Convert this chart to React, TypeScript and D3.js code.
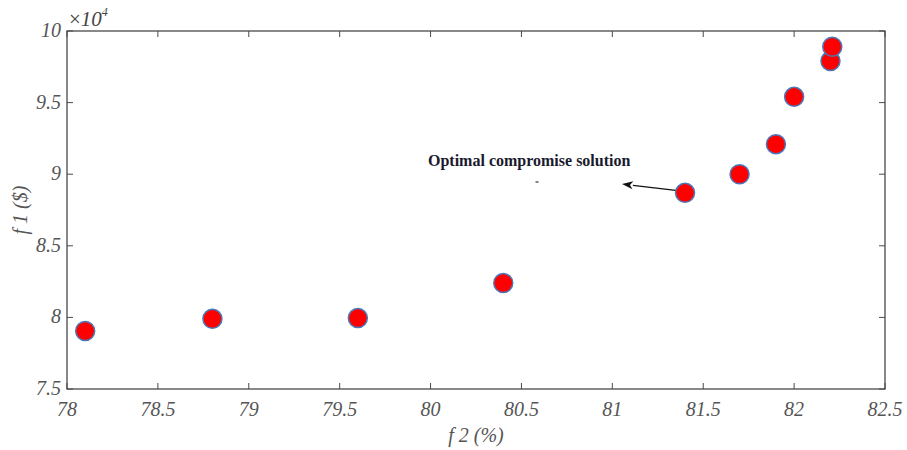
import React, { useRef, useEffect } from 'react';
import * as d3 from 'd3';

// f2 (%) and f1 ($ / 1e4) of the pareto points
const f2Values = [78.1, 78.8, 79.6, 80.4, 81.4, 81.7, 81.9, 82.0, 82.2, 82.21];
const f1Values = [7.905, 7.99, 7.995, 8.24, 8.87, 9.0, 9.21, 9.54, 9.79, 9.89];
const xTicks = [78, 78.5, 79, 79.5, 80, 80.5, 81, 81.5, 82, 82.5];
const yTicks = [7.5, 8, 8.5, 9, 9.5, 10];
const annotationText = 'Optimal compromise solution';

const ParetoChart = ({ width, height }) => {
  const ref = useRef(null);

  useEffect(() => {
    const svg = d3.select(ref.current)
      .attr('width', width)
      .attr('height', height)
      .style('background-color', 'white');

    svg.selectAll('*').remove();

    const left = 67, top = 31, right = 885, bottom = 389;
    const font = '"Liberation Serif", "Times New Roman", serif';
    const axisColor = '#4a4a4a';
    const textColor = '#555';

    const xScale = d3.scaleLinear().domain([78, 82.5]).range([left, right]);
    const yScale = d3.scaleLinear().domain([7.5, 10]).range([bottom, top]);

    const g = svg.append('g');

    // box
    g.append('rect')
      .attr('x', left).attr('y', top)
      .attr('width', right - left).attr('height', bottom - top)
      .attr('fill', 'none')
      .attr('stroke', axisColor)
      .attr('stroke-width', 1.3);

    // inward ticks on all four sides
    const tl = 6;
    xTicks.forEach(t => {
      const x = xScale(t);
      g.append('line').attr('x1', x).attr('x2', x).attr('y1', bottom).attr('y2', bottom - tl).attr('stroke', axisColor);
      g.append('line').attr('x1', x).attr('x2', x).attr('y1', top).attr('y2', top + tl).attr('stroke', axisColor);
      g.append('text')
        .attr('x', x).attr('y', bottom + 27)
        .attr('text-anchor', 'middle')
        .style('font-family', font).style('font-style', 'italic').style('font-size', '20px')
        .attr('fill', textColor)
        .text(t);
    });
    yTicks.forEach(t => {
      const y = yScale(t);
      g.append('line').attr('x1', left).attr('x2', left + tl).attr('y1', y).attr('y2', y).attr('stroke', axisColor);
      g.append('line').attr('x1', right).attr('x2', right - tl).attr('y1', y).attr('y2', y).attr('stroke', axisColor);
      g.append('text')
        .attr('x', left - 6).attr('y', y + 6)
        .attr('text-anchor', 'end')
        .style('font-family', font).style('font-style', 'italic').style('font-size', '20px')
        .attr('fill', textColor)
        .text(t);
    });

    // exponent
    const expo = g.append('text')
      .attr('x', left + 2).attr('y', top - 5)
      .style('font-family', font).style('font-size', '21px')
      .attr('fill', '#444');
    expo.append('tspan').text('\u00d7');
    expo.append('tspan').style('font-style', 'italic').text('10');
    expo.append('tspan').attr('dy', -10).style('font-size', '12px').style('font-style', 'italic').text('4');

    // axis labels
    g.append('text')
      .attr('x', (left + right) / 2).attr('y', 442)
      .attr('text-anchor', 'middle')
      .style('font-family', font).style('font-style', 'italic').style('font-size', '20px')
      .attr('fill', textColor)
      .text('f 2 (%)');
    g.append('text')
      .attr('transform', `translate(27, ${(top + bottom) / 2}) rotate(-90)`)
      .attr('text-anchor', 'middle')
      .style('font-family', font).style('font-style', 'italic').style('font-size', '20px')
      .attr('fill', textColor)
      .text('f 1 ($)');

    // annotation
    g.append('text')
      .attr('x', 428).attr('y', 166)
      .style('font-family', font).style('font-weight', 'bold').style('font-size', '16px')
      .attr('fill', '#1a1a2e')
      .text(annotationText);
    g.append('line')
      .attr('x1', 535.5).attr('x2', 538.5).attr('y1', 182).attr('y2', 182)
      .attr('stroke', '#333').attr('stroke-width', 1.2);

    const x0 = xScale(81.4) - 5, y0 = yScale(8.87) - 2;
    const tipX = 622, tipY = 184;
    const ang = Math.atan2(tipY - y0, tipX - x0);
    const hl = 11, hw = 4;
    const bx = tipX - hl * Math.cos(ang), by = tipY - hl * Math.sin(ang);
    g.append('line')
      .attr('x1', x0).attr('y1', y0)
      .attr('x2', bx).attr('y2', by)
      .attr('stroke', '#111').attr('stroke-width', 1.3);
    g.append('path')
      .attr('d', `M${tipX},${tipY} L${bx - hw * Math.sin(ang)},${by + hw * Math.cos(ang)} L${bx + 3 * Math.cos(ang)},${by + 3 * Math.sin(ang)} L${bx + hw * Math.sin(ang)},${by - hw * Math.cos(ang)} Z`)
      .attr('fill', '#111');

    // points
    g.append('g')
      .selectAll('circle')
      .data(f2Values.map((x, i) => [x, f1Values[i]]))
      .enter()
      .append('circle')
      .attr('cx', d => xScale(d[0]))
      .attr('cy', d => yScale(d[1]))
      .attr('r', 9.5)
      .style('fill', '#ff0000')
      .style('stroke', '#4a78b8')
      .style('stroke-width', 1.5);
  }, [width, height]);

  return <svg ref={ref} style={{ position: 'absolute', left: 0, top: 0 }}></svg>;
};

export default function App() {
  return <ParetoChart width={907} height={450} />;
}
